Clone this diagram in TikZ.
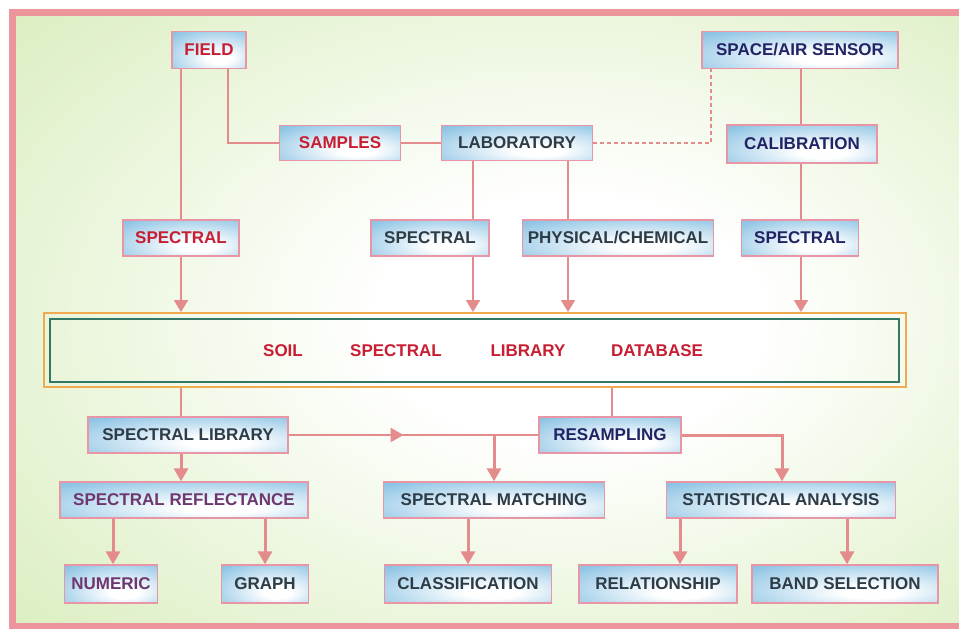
\documentclass[tikz,border=0pt]{standalone}
\usepackage{fontspec}
\setmainfont{Liberation Sans}
\usetikzlibrary{arrows.meta,decorations.markings,calc}
\definecolor{bggreen}{RGB}{206,232,170}
\definecolor{boxblue}{RGB}{140,195,228}
\definecolor{lnpink}{RGB}{228,140,140}
\definecolor{frpink}{RGB}{236,150,155}
\definecolor{bxborder}{RGB}{232,150,165}
\definecolor{txred}{RGB}{200,30,50}
\definecolor{txnavy}{RGB}{35,35,100}
\definecolor{txgray}{RGB}{45,60,70}
\definecolor{txpurple}{RGB}{110,55,110}
\definecolor{dborange}{RGB}{240,170,80}
\definecolor{dbgreen}{RGB}{50,120,100}
\pgfdeclareradialshading{bgshade}{\pgfpoint{5bp}{0bp}}{color(0bp)=(white); color(10bp)=(white); color(48bp)=(bggreen); color(80bp)=(bggreen)}
\pgfdeclareradialshading{boxshade}{\pgfpoint{8bp}{-12bp}}{color(0bp)=(white); color(8bp)=(white); color(40bp)=(boxblue); color(80bp)=(boxblue)}
\pgfdeclarelayer{bg}
\pgfdeclarelayer{lines}
\pgfsetlayers{bg,lines,main}
\tikzset{
  bx/.style={draw=bxborder, line width=1.3pt, shading=boxshade, minimum height=36pt, inner sep=0pt, font=\fontsize{17}{19}\selectfont\bfseries},
  dbtext/.style={inner sep=0pt, font=\fontsize{17}{19}\selectfont\bfseries, text=txred},
  ln/.style={draw=lnpink, line width=2pt},
  arr/.style={ln, -{Triangle[width=14pt,length=12pt]}},
  arrb/.style={draw=lnpink, line width=3pt, -{Triangle[width=14pt,length=13pt]}},
}
\begin{document}
\begin{tikzpicture}[x=1pt,y=-1pt]
\useasboundingbox (0,0) rectangle (959,629);
\begin{pgfonlayer}{bg}
\fill[white] (0,0) rectangle (959,629);
\shade[shading=bgshade] (16,16) rectangle (959,623);
\draw[frpink, line width=7pt] (962,12.5) -- (12.5,12.5) -- (12.5,626) -- (962,626);
\end{pgfonlayer}

% nodes
\node[bx, minimum width=74pt, minimum height=37pt, text=txred] (field) at (209,50) {FIELD};
\node[bx, minimum width=196pt, minimum height=37pt, text=txnavy] (space) at (800,50) {SPACE/AIR SENSOR};
\node[bx, minimum width=121pt, minimum height=35pt, text=txred] (samples) at (340,143) {SAMPLES};
\node[bx, minimum width=151pt, minimum height=35pt, text=txgray] (lab) at (517,143) {LABORATORY};
\node[bx, minimum width=150pt, minimum height=38pt, text=txnavy] (cal) at (802,144) {CALIBRATION};
\node[bx, minimum width=116pt, text=txred] (spL) at (181,238) {SPECTRAL};
\node[bx, minimum width=118pt, text=txgray] (spM) at (430,238) {SPECTRAL};
\node[bx, minimum width=191pt, text=txgray] (phys) at (618,238) {PHYSICAL/CHEMICAL};
\node[bx, minimum width=117pt, text=txnavy] (spR) at (800,238) {SPECTRAL};

\node[draw=dborange, line width=2pt, minimum width=862pt, minimum height=74pt, inner sep=0pt] (db) at (475,350) {};
\draw[dbgreen, line width=2pt] ([shift={(7pt,-7pt)}]db.north west) rectangle ([shift={(-8pt,6pt)}]db.south east);
\node[dbtext] (t1) at (283,351) {SOIL};
\node[dbtext] (t2) at (396,351) {SPECTRAL};
\node[dbtext] (t3) at (528,351) {LIBRARY};
\node[dbtext] (t4) at (657,351) {DATABASE};

\node[bx, minimum width=200pt, text=txgray] (sl) at (188,435) {SPECTRAL LIBRARY};
\node[bx, minimum width=142pt, text=txnavy] (rs) at (610,435) {RESAMPLING};
\node[bx, minimum width=248pt, text=txpurple] (sr) at (184,500) {SPECTRAL REFLECTANCE};
\node[bx, minimum width=221pt, text=txgray] (sm) at (494,500) {SPECTRAL MATCHING};
\node[bx, minimum width=229pt, text=txgray] (sa) at (781,500) {STATISTICAL ANALYSIS};
\node[bx, minimum width=93pt, minimum height=38pt, text=txpurple] (num) at (111,584) {NUMERIC};
\node[bx, minimum width=87pt, minimum height=38pt, text=txgray] (graph) at (265,584) {GRAPH};
\node[bx, minimum width=167pt, minimum height=38pt, text=txgray] (cls) at (468,584) {CLASSIFICATION};
\node[bx, minimum width=158pt, minimum height=38pt, text=txgray] (rel) at (658,584) {RELATIONSHIP};
\node[bx, minimum width=186pt, minimum height=38pt, text=txgray] (band) at (845,584) {BAND SELECTION};

% helper coordinates
\coordinate (fA) at ([xshift=19pt]field.south);
\coordinate (lA) at ([xshift=-44pt]lab.south);
\coordinate (lB) at ([xshift=51pt]lab.south);
\coordinate (sA) at ([xshift=-89pt]space.south);
\coordinate (sB) at ([xshift=1pt]space.south);
\coordinate (slA) at ([xshift=-7pt]sl.north);
\coordinate (slB) at ([xshift=-7pt]sl.south);
\coordinate (rsA) at ([xshift=2pt]rs.north);
\coordinate (numA) at ([xshift=2pt]num.north);
\coordinate (relA) at ([xshift=22pt]rel.north);
\coordinate (bandA) at ([xshift=2pt]band.north);
\coordinate (saA) at ([xshift=1pt]sa.north);

\begin{pgfonlayer}{lines}
\draw[arr] (field.south -| spL.north) -- (spL.north |- db.north);
\draw[ln] (fA) |- (samples.west);
\draw[ln] (samples.east) -- (lab.west);
\draw[ln, line width=1.5pt, dash pattern=on 4pt off 3pt] (lab.east) -| (sA);
\draw[arr] (lA) -- (lA |- db.north);
\draw[arr] (lB) -- (lB |- db.north);
\draw[arr] (sB) -- (sB |- db.north);

\draw[ln] (slA |- db.south) -- (slA);
\draw[arrb] (slB) -- (slB |- sr.north);
\draw[ln] (rsA |- db.south) -- (rsA);
\draw[ln, line width=2.5pt, postaction={decorate}, decoration={markings, mark=at position 0.46 with {\arrow{Triangle[width=14pt,length=13pt]}}}] (sl.east) -- (rs.west);
\draw[arrb] (sl.east -| sm.north) -- (sm.north);
\draw[arrb] (rs.east) -| (saA);
\draw[arrb] (numA |- sr.south) -- (numA);
\draw[arrb] (graph.north |- sr.south) -- (graph.north);
\draw[arrb] (cls.north |- sm.south) -- (cls.north);
\draw[arrb] (relA |- sa.south) -- (relA);
\draw[arrb] (bandA |- sa.south) -- (bandA);
\end{pgfonlayer}
\end{tikzpicture}
\end{document}
